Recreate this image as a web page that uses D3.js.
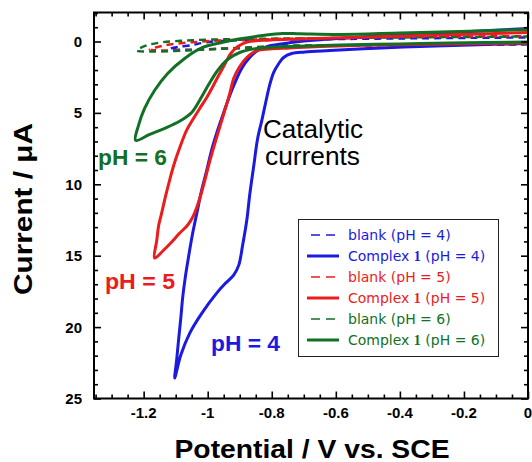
<!DOCTYPE html>
<html><head><meta charset="utf-8">
<script src="https://cdn.jsdelivr.net/npm/d3@7"></script>
<style>body{margin:0;background:#fff} svg{display:block}</style>
</head><body>
<svg id="c" width="532" height="462"></svg>
<script>
// ---- data ----
const xTicks = [-1.2, -1, -0.8, -0.6, -0.4, -0.2, 0];
const xTickLabels = ["-1.2", "-1", "-0.8", "-0.6", "-0.4", "-0.2", "0"];
const yTicks = [0, 5, 10, 15, 20, 25];
const yTickLabels = ["0", "5", "10", "15", "20", "25"];
const legendLabels = ["blank (pH = 4)", "Complex 1 (pH = 4)", "blank (pH = 5)", "Complex 1 (pH = 5)", "blank (pH = 6)", "Complex 1 (pH = 6)"];

// [potential (V vs SCE), current (uA)]
const blank4 = [[0,0.17],[-0.4,0.24],[-0.713,0.35],[-0.869,0.45],[-0.963,0.51],[-1.066,0.58],[-1.119,0.52],
  [-1.094,0.38],[-1.056,0.28],[-1.003,0.05],[-0.931,-0.07],[-0.838,-0.10],[-0.713,-0.14],[-0.4,-0.21],[0,-0.28]];
const complex4 = [[0,0.14],[-0.181,0.24],[-0.338,0.35],[-0.494,0.49],[-0.619,0.63],[-0.697,0.73],[-0.738,0.84],[-0.763,1.12],[-0.778,1.54],[-0.794,2.17],[-0.806,3.01],[-0.819,4.27],[-0.831,5.52],[-0.844,6.78],[-0.856,8.67],[-0.869,10.77],[-0.878,12.52],[-0.891,14.27],[-0.903,15.66],[-0.919,16.36],[-0.944,16.92],[-0.972,17.62],[-1.016,18.95],[-1.056,20.42],[-1.084,21.96],[-1.103,23.57],
  [-1.097,22.31],[-1.091,20.91],[-1.084,19.37],[-1.078,17.90],[-1.069,16.36],[-1.059,14.97],[-1.047,13.43],[-1.034,12.03],[-1.019,10.42],[-1.003,9.02],[-0.988,7.62],[-0.969,6.22],[-0.95,4.97],[-0.925,3.43],[-0.894,1.89],[-0.869,1.12],[-0.844,0.63],[-0.813,0.35],[-0.759,0.14],[-0.713,0],[-0.619,-0.17],[-0.494,-0.35],[-0.338,-0.52],[-0.181,-0.70],[0,-0.91]];
const blank5 = [[0,0.17],[-0.244,0.21],[-0.463,0.24],[-0.713,0.31],[-0.869,0.42],[-1.016,0.56],[-1.128,0.63],[-1.181,0.56],
  [-1.15,0.35],[-1.119,0.21],[-1.047,0.05],[-0.963,-0.07],[-0.859,-0.14],[-0.713,-0.21],[-0.556,-0.24],[-0.4,-0.31],[-0.213,-0.35],[0,-0.38]];
const complex5 = [[0,0.10],[-0.244,0.17],[-0.463,0.24],[-0.65,0.35],[-0.744,0.45],[-0.806,0.52],[-0.847,0.63],[-0.878,1.12],[-0.9,1.75],[-0.919,2.59],[-0.931,3.64],[-0.944,4.62],[-0.956,5.52],[-0.972,6.71],[-0.984,7.62],[-0.997,8.67],[-1.009,9.72],[-1.022,10.77],[-1.034,11.61],[-1.047,12.31],[-1.063,12.87],[-1.088,13.43],[-1.113,14.06],[-1.138,14.62],[-1.166,15.17],
  [-1.159,13.92],[-1.153,12.87],[-1.144,12.03],[-1.131,10.77],[-1.119,9.72],[-1.106,8.67],[-1.088,7.48],[-1.066,6.22],[-1.044,5.38],[-1.025,4.69],[-1.003,3.92],[-0.984,3.15],[-0.966,2.38],[-0.947,1.61],[-0.928,0.84],[-0.906,0.35],[-0.875,0.03],[-0.806,-0.10],[-0.713,-0.17],[-0.556,-0.28],[-0.4,-0.38],[-0.213,-0.49],[0,-0.63]];
const blank6 = [[0,0.21],[-0.244,0.24],[-0.463,0.24],[-0.65,0.28],[-0.753,0.28],[-0.859,0.40],[-0.963,0.51],[-1.066,0.63],[-1.172,0.70],[-1.222,0.63],
  [-1.191,0.28],[-1.141,0.05],[-1.066,-0.07],[-0.984,-0.14],[-0.9,-0.17],[-0.775,-0.21],[-0.619,-0.24],[-0.4,-0.28],[-0.213,-0.31],[0,-0.35]];
const complex6 = [[0,0.03],[-0.244,0.10],[-0.4,0.17],[-0.588,0.24],[-0.691,0.31],[-0.784,0.38],[-0.847,0.49],[-0.9,0.77],[-0.938,1.26],[-0.969,2.03],[-0.997,3.01],[-1.022,3.99],[-1.05,4.97],[-1.088,5.59],[-1.134,6.08],[-1.181,6.50],[-1.225,6.92],
  [-1.216,5.87],[-1.197,4.69],[-1.166,3.43],[-1.125,2.24],[-1.072,1.19],[-1.016,0.42],[-0.956,0.07],[-0.891,-0.21],[-0.828,-0.42],[-0.766,-0.56],[-0.713,-0.54],[-0.588,-0.49],[-0.4,-0.59],[-0.213,-0.70],[0,-0.84]];

// ---- styles ----
const BLUE = "#1a1ae0", RED = "#ec1c1c", GREEN = "#127024";
const series = [
  {data: blank4, color: BLUE, dash: true},
  {data: blank5, color: RED, dash: true},
  {data: blank6, color: GREEN, dash: true},
  {data: complex4, color: BLUE, dash: false},
  {data: complex5, color: RED, dash: false},
  {data: complex6, color: GREEN, dash: false}
];
const legendStyle = [
  {color: BLUE, dash: true}, {color: BLUE, dash: false},
  {color: RED, dash: true}, {color: RED, dash: false},
  {color: GREEN, dash: true}, {color: GREEN, dash: false}
];

const L = 94, R = 528, T = 12.5, B = 398.5;
const x = d3.scaleLinear().domain([-1.355, 0]).range([L, R]);
const y = d3.scaleLinear().domain([-2.03, 25]).range([T, B]);

const svg = d3.select("#c");
const FONT = "'Liberation Sans', Arial, Helvetica, sans-serif";

svg.append("defs").append("clipPath").attr("id", "clip")
  .append("rect").attr("x", L).attr("y", T).attr("width", R - L).attr("height", B - T);

// curves
const line = d3.line().x(d => x(d[0])).y(d => y(d[1])).curve(d3.curveCatmullRom.alpha(0.5));
const g = svg.append("g").attr("clip-path", "url(#clip)");
series.forEach(s => {
  g.append("path").attr("d", line(s.data)).attr("fill", "none")
    .attr("stroke", s.color).attr("stroke-width", s.dash ? 2.4 : 3)
    .attr("stroke-dasharray", s.dash ? "7,5" : null)
    .attr("stroke-linejoin", "round").attr("stroke-linecap", s.dash ? "butt" : "round");
});

// axes (ticks inward on all four sides)
const xMinor = d3.range(-1.35, 0.001, 0.05);
const yMinor = d3.range(-2, 25.001, 1);
function isMajorX(v) { return Math.abs(v / 0.2 - Math.round(v / 0.2)) < 1e-6; }
function isMajorY(v) { return Math.abs(v / 5 - Math.round(v / 5)) < 1e-6; }

const axB = svg.append("g").attr("transform", `translate(0,${B})`)
  .call(d3.axisTop(x).tickValues(xMinor).tickSize(4).tickFormat(""));
const axT = svg.append("g").attr("transform", `translate(0,${T})`)
  .call(d3.axisBottom(x).tickValues(xMinor).tickSize(4).tickFormat(""));
const axL = svg.append("g").attr("transform", `translate(${L},0)`)
  .call(d3.axisRight(y).tickValues(yMinor).tickSize(4).tickFormat(""));
const axR = svg.append("g").attr("transform", `translate(${R},0)`)
  .call(d3.axisLeft(y).tickValues(yMinor).tickSize(4).tickFormat(""));
[axB, axT, axL, axR].forEach(a => {
  a.select(".domain").remove();
  a.selectAll(".tick line").attr("stroke", "#000").attr("stroke-width", 1.6);
});
axB.selectAll(".tick line").attr("y2", d => isMajorX(d) ? -7 : -4);
axT.selectAll(".tick line").attr("y2", d => isMajorX(d) ? 7 : 4);
axL.selectAll(".tick line").attr("x2", d => isMajorY(d) ? 7 : 4);
axR.selectAll(".tick line").attr("x2", d => isMajorY(d) ? -7 : -4);

// frame
svg.append("rect").attr("x", L).attr("y", T).attr("width", R - L).attr("height", B - T)
  .attr("fill", "none").attr("stroke", "#000").attr("stroke-width", 2);

// tick labels
svg.append("g").selectAll("text").data(xTicks).join("text")
  .attr("x", d => x(d)).attr("y", 418).attr("text-anchor", "middle")
  .attr("font-family", FONT).attr("font-weight", "bold").attr("font-size", 15)
  .text((d, i) => xTickLabels[i]);
svg.append("g").selectAll("text").data(yTicks).join("text")
  .attr("x", 82).attr("y", d => y(d) + 5.5).attr("text-anchor", "end")
  .attr("font-family", FONT).attr("font-weight", "bold").attr("font-size", 15)
  .text((d, i) => yTickLabels[i]);

// axis titles
svg.append("text").attr("x", 312).attr("y", 457.5).attr("text-anchor", "middle")
  .attr("font-family", FONT).attr("font-weight", "bold").attr("font-size", 25)
  .attr("textLength", 275).attr("lengthAdjust", "spacingAndGlyphs")
  .text("Potential / V vs. SCE");
svg.append("text").attr("transform", "translate(31.5,209) rotate(-90)").attr("text-anchor", "middle")
  .attr("font-family", FONT).attr("font-weight", "bold").attr("font-size", 25)
  .attr("textLength", 172).attr("lengthAdjust", "spacingAndGlyphs")
  .text("Current / \u03bcA");

// annotations
function ann(txt, px, py, color, size, weight, len, family) {
  svg.append("text").attr("x", px).attr("y", py).attr("fill", color)
    .attr("font-family", family || FONT).attr("font-weight", weight).attr("font-size", size)
    .attr("textLength", len).attr("lengthAdjust", "spacingAndGlyphs").text(txt);
}
ann("pH = 6", 98, 165, GREEN, 22, "bold", 69);
ann("pH = 5", 105, 289, RED, 22, "bold", 70);
ann("pH = 4", 211, 351, BLUE, 22, "bold", 69);
const NARROW = "'Liberation Sans Narrow', 'Arial Narrow', 'Liberation Sans', sans-serif";
ann("Catalytic", 263, 138, "#000", 25, "normal", 100, NARROW);
ann("currents", 265, 165, "#000", 25, "normal", 95, NARROW);

// legend
const lg = svg.append("g");
lg.append("rect").attr("x", 298.5).attr("y", 219.5).attr("width", 200).attr("height", 137)
  .attr("fill", "#fff").attr("stroke", "#222").attr("stroke-width", 1);
legendLabels.forEach((lab, i) => {
  const st = legendStyle[i];
  const cy = 235 + i * 21;
  lg.append("line").attr("x1", st.dash ? 311 : 307).attr("x2", 339).attr("y1", cy).attr("y2", cy)
    .attr("stroke", st.color).attr("stroke-width", st.dash ? 1.6 : 3)
    .attr("stroke-dasharray", st.dash ? "9,6" : null);
  const t = lg.append("text").attr("x", 348).attr("y", cy + 5).attr("fill", st.color)
    .attr("font-family", "'DejaVu Sans', Verdana, sans-serif").attr("font-size", 14);
  const parts = lab.split(" 1 ");
  if (parts.length === 2) {
    t.append("tspan").text(parts[0] + " ");
    t.append("tspan").attr("font-family", "'Liberation Serif', 'Times New Roman', serif").attr("font-weight", "bold").text("1");
    t.append("tspan").text(" " + parts[1]);
  } else {
    t.text(lab);
  }
});
</script>
</body></html>
